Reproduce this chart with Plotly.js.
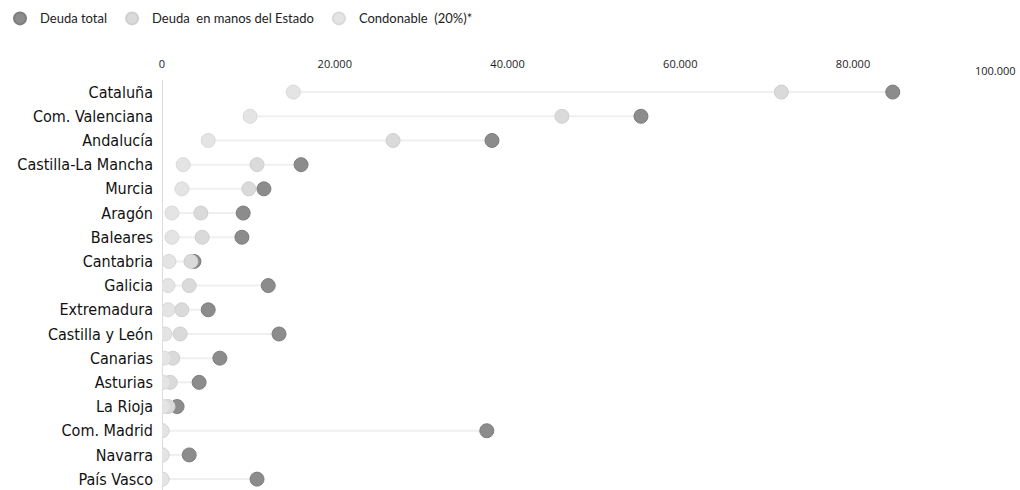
<!DOCTYPE html>
<html>
<head>
<meta charset="utf-8">
<script src="https://cdn.plot.ly/plotly-3.0.1.min.js"></script>
<style>html,body{margin:0;padding:0;background:#fff;}#chart{width:1020px;height:490px;}</style>
</head>
<body>
<div id="chart"></div>
<script>
const regions = ["Cataluña","Com. Valenciana","Andalucía","Castilla-La Mancha","Murcia","Aragón","Baleares","Cantabria","Galicia","Extremadura","Castilla y León","Canarias","Asturias","La Rioja","Com. Madrid","Navarra","País Vasco"];
const deudaTotal = [84600,55450,38200,16100,11800,9400,9250,3700,12300,5350,13550,6700,4300,1750,37600,3150,11000];
const deudaEstado = [71700,46300,26750,11000,10050,4500,4650,3350,3150,2300,2100,1250,950,700,0,0,0];
const condonable = [15200,10200,5350,2450,2300,1150,1150,800,700,700,350,250,150,150,0,0,0];
const xTicks = [0,20000,40000,60000,80000];
const xTickText = ["0","20.000","40.000","60.000","80.000"];
const lastTickText = "100.000";

// connecting segments from min to max of each row
const lx = [], ly = [];
regions.forEach((r,i)=>{
  const vals=[deudaTotal[i],deudaEstado[i],condonable[i]];
  lx.push(Math.min(...vals), Math.max(...vals), null);
  ly.push(r, r, null);
});

const traces = [
  {x: lx, y: ly, mode:'lines', line:{color:'#efefef', width:2}, showlegend:false, hoverinfo:'skip'},
  {x: deudaTotal, y: regions, mode:'markers', name:'Deuda total',
   marker:{size:14, color:'#8c8c8c', line:{color:'#7d7d7d', width:1}}},
  {x: deudaEstado, y: regions, mode:'markers', name:'Deuda  en manos del Estado',
   marker:{size:14, color:'#dadada', line:{color:'#cfcfcf', width:1}}},
  {x: condonable, y: regions, mode:'markers', name:'Condonable  (20%)*',
   marker:{size:14, color:'#e4e4e4', line:{color:'#d9d9d9', width:1}}}
];

const layout = {
  width:1020, height:490,
  margin:{l:162, r:0, t:80, b:0},
  paper_bgcolor:'#fff', plot_bgcolor:'#fff',
  showlegend:true,
  legend:{orientation:'h', xref:'container', yref:'container', x:0, y:0.993, xanchor:'left', yanchor:'top',
          font:{family:'Lato, sans-serif', size:13, color:'#222'}, itemsizing:'constant', traceorder:'normal'},
  xaxis:{side:'top', range:[0, 99330], tickvals:xTicks, ticktext:xTickText, showgrid:false,
         zeroline:true, zerolinecolor:'#dcdcdc', zerolinewidth:1, showline:false,
         ticks:'', ticklabelstandoff:9,
         tickfont:{family:'"Open Sans", sans-serif', size:11, color:'#222'}, fixedrange:true},
  yaxis:{type:'category', categoryarray:regions, range:[16.45,-0.5], showgrid:false, zeroline:false,
         showline:false, ticks:'', ticklabelstandoff:8,
         tickfont:{family:'"DejaVu Sans Condensed", sans-serif', size:16, color:'#111'}, fixedrange:true},
  annotations:[{text:lastTickText, xref:'paper', yref:'paper', x:1, y:1, xanchor:'right', yanchor:'middle',
                yshift:10, xshift:-2, showarrow:false,
                font:{family:'"Open Sans", sans-serif', size:11, color:'#222'}}]
};

Plotly.newPlot('chart', traces, layout, {displayModeBar:false, staticPlot:true});
</script>
</body>
</html>
